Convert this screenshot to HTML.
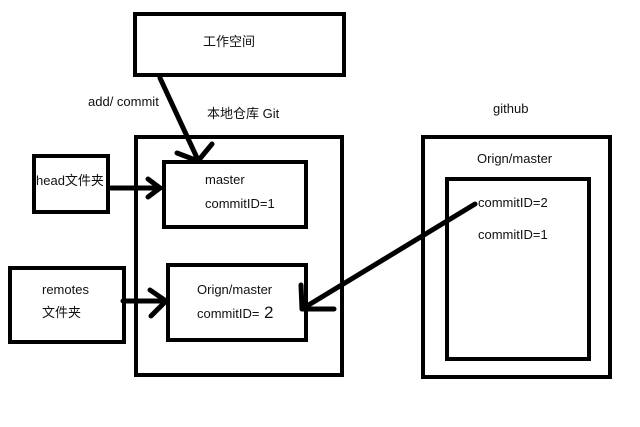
<!DOCTYPE html>
<html><head><meta charset="utf-8"><style>
html,body{margin:0;padding:0;background:#fff;width:640px;height:427px;overflow:hidden}
svg text{font-family:"Liberation Sans","Noto Sans CJK SC",sans-serif;font-size:13px;fill:#111}
</style></head><body>
<svg width="640" height="427" xmlns="http://www.w3.org/2000/svg">
<g fill="none" stroke="#000" stroke-width="4">
<rect x="135" y="14" width="209" height="61"/>
<rect x="136" y="137" width="206" height="238"/>
<rect x="164" y="162" width="142" height="65"/>
<rect x="34" y="156" width="74" height="56"/>
<rect x="10" y="268" width="114" height="74"/>
<rect x="168" y="265" width="138" height="75"/>
<rect x="423" y="137" width="187" height="240"/>
<rect x="447" y="179" width="142" height="180"/>
</g>
<g fill="none" stroke="#000" stroke-width="5" stroke-linecap="round" stroke-linejoin="round">
<polyline points="160,78 198,160"/>
<polyline points="177,153 198,161 212,144"/>
<polyline points="111,188 160,188"/>
<polyline points="148,179 160,188 148,197"/>
<polyline points="123,301 166,301"/>
<polyline points="150,290 166,301 151,316"/>
<polyline points="475,204 302,309"/>
<polyline points="301,285 302,309 334,309"/>
</g>
<text x="203" y="46">工作空间</text>
<text x="88" y="106">add/ commit</text>
<text x="207" y="118">本地仓库 Git</text>
<text x="36" y="185">head文件夹</text>
<text x="205" y="184">master</text>
<text x="205" y="208">commitID=1</text>
<text x="42" y="294">remotes</text>
<text x="42" y="317">文件夹</text>
<text x="197" y="294">Orign/master</text>
<text x="197" y="318">commitID=</text><text x="264" y="318" style="font-size:17px">2</text>
<text x="493" y="113">github</text>
<text x="477" y="163">Orign/master</text>
<text x="478" y="207">commitID=2</text>
<text x="478" y="239">commitID=1</text>
</svg>
</body></html>
